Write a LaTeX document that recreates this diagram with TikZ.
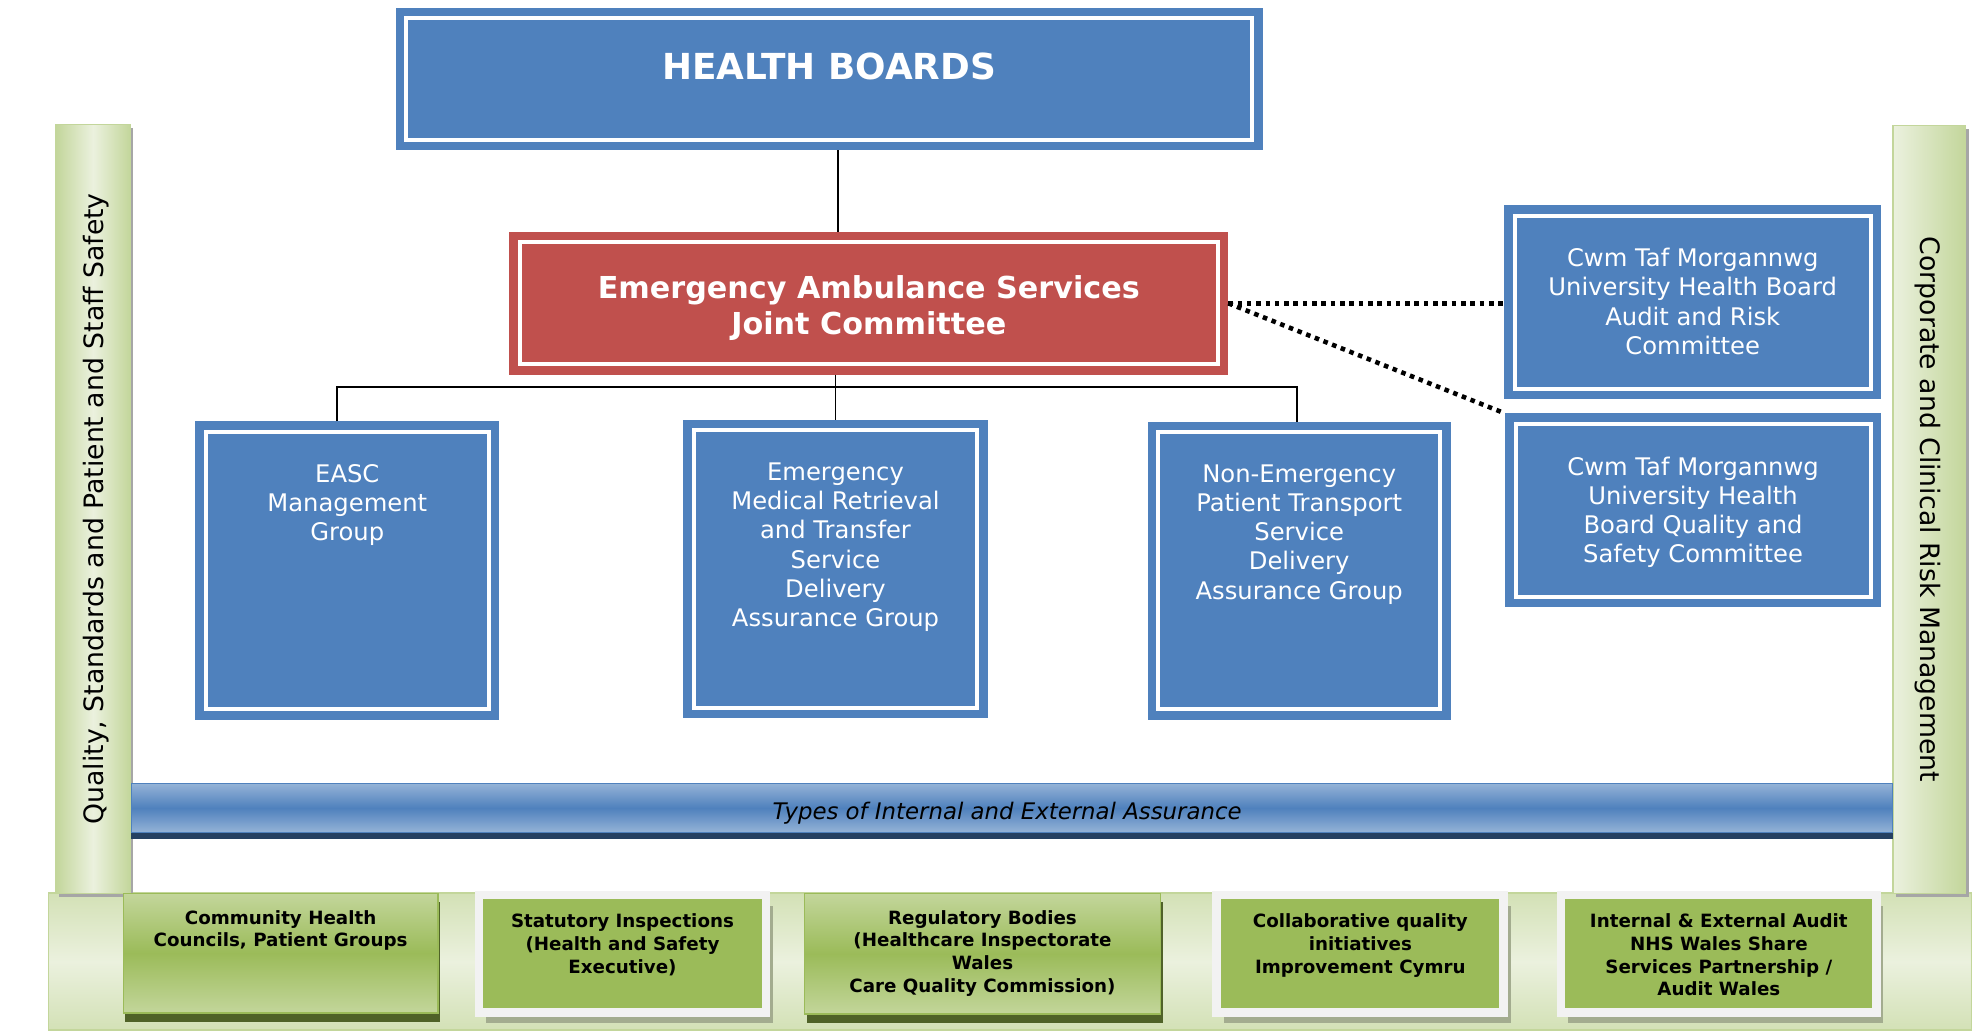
\documentclass[tikz,border=0pt]{standalone}
\usepackage{fontspec}
\setmainfont{DejaVu Sans}
\usetikzlibrary{positioning,shadows}

\definecolor{boardblue}{HTML}{4F81BD}
\definecolor{jcred}{HTML}{C0504D}
\definecolor{assgreen}{HTML}{9BBB59}
\definecolor{midgreen}{HTML}{C3D69B}
\definecolor{palegreen}{HTML}{EBF1DE}
\definecolor{barlight}{HTML}{95B3D7}
\definecolor{bardark}{HTML}{254061}
\definecolor{olivedark}{HTML}{4F6228}
\definecolor{framegrey}{HTML}{F2F2F2}
\definecolor{shadegrey}{HTML}{A3AC8F}

\newcommand{\dpx}{0.358pt}

\tikzset{
	boxsize/.style 2 args={minimum width=#1*\dpx, minimum height=#2*\dpx},
	framed/.style={draw=#1, fill=#1, line width=2.43pt, double=white,
			double distance=1.15pt, inner sep=0pt, outer sep=3pt},
	boxtext/.style={text=white, align=center, inner sep=0pt,
			font=\fontsize{6.9}{8.3}\selectfont},
	sidebar/.style={draw=midgreen, line width=0.4pt, inner sep=0pt,
			left color=midgreen, right color=midgreen, middle color=palegreen,
			drop shadow={shadow xshift=0.9pt, shadow yshift=-1pt, fill=black!35, opacity=1}},
	sidetext/.style={font=\fontsize{7.6}{9}\selectfont, inner sep=0pt},
	raisedbox/.style={draw=assgreen, line width=0.5pt, inner sep=0pt,
			top color=midgreen, bottom color=midgreen, middle color=assgreen,
			drop shadow={shadow xshift=0.6pt, shadow yshift=-2.5pt, fill=olivedark, opacity=1}},
	flatbox/.style={draw=framegrey, line width=2.5pt, fill=assgreen, inner sep=0pt,
			drop shadow={shadow xshift=1.9pt, shadow yshift=-3pt, fill=shadegrey, opacity=1}},
	assurtext/.style={font=\bfseries\fontsize{5.2}{6.45}\selectfont, align=center, inner sep=0pt},
	dotline/.style={line width=1.3pt, dash pattern=on 1.3pt off 1.35pt},
}

\begin{document}
\begin{tikzpicture}[x=0.012583cm, y=-0.012583cm]
	\useasboundingbox (0,0) rectangle (1568,820.2);
	
	\node[draw=midgreen, inner sep=0pt, top color=midgreen!60!palegreen, bottom color=midgreen!60!palegreen,
		middle color=palegreen, boxsize={1528.6}{108.8}] (strip) at (802.7,764.2) {};
	\node[sidebar, boxsize={59}{611}] (qbar) at (74,404.5) {};
	\node[sidetext, rotate=90] at ([xshift=1pt]qbar.center) {Quality, Standards and Patient and Staff Safety};
	\node[sidebar, left color=palegreen, right color=midgreen, boxsize={57.5}{610.3}] (riskbar) at (1533.25,404.85) {};
	\node[sidetext, rotate=-90] at ([xshift=-0.3pt]riskbar.center) {Corporate and Clinical Risk Management};
	
	\node[draw=boardblue, line width=0.4pt, top color=barlight, bottom color=barlight, middle color=boardblue,
		boxsize={1400.5}{39.2}, inner sep=0pt] (typesbar) at (804.25,642.1) {};
	\fill[bardark] (typesbar.south west) rectangle ++(1400.5,4.5);
	\node[font=\itshape\fontsize{6.5}{8}\selectfont, xshift=-1.4pt, yshift=-1.4pt] at (typesbar.center)
		{Types of Internal and External Assurance};
	
	\node[framed=boardblue, boxsize={672.7}{96.7}] (hb) at (659,62.75) {};
	\node[text=white, font=\bfseries\fontsize{10.2}{12}\selectfont, yshift=3.5pt] at (hb.center) {HEALTH BOARDS};
	
	\node[framed=jcred, boxsize={554.9}{97.1}] (jc) at (690.45,241.05) {};
	\node[text=white, align=center, font=\bfseries\fontsize{8.6}{10.4}\selectfont, yshift=-1.4pt] at (jc.center)
		{Emergency Ambulance Services\\Joint Committee};
	
	\node[framed=boardblue, boxsize={225.2}{220.6}] (mgmt) at (276,453.3) {};
	\node[boxtext, below=12.1pt] at (mgmt.north) {EASC\\Management\\Group};
	\node[framed=boardblue, boxsize={225.2}{220.7}] (emrts) at (664,452.25) {};
	\node[boxtext, below=12.1pt] at (emrts.north) {Emergency\\Medical Retrieval\\and Transfer\\Service\\Delivery\\Assurance Group};
	\node[framed=boardblue, boxsize={224.2}{220.2}] (nepts) at (1032.5,453.5) {};
	\node[boxtext, below=12.1pt] at (nepts.north) {Non-Emergency\\Patient Transport\\Service\\Delivery\\Assurance Group};
	
	\node[framed=boardblue, boxsize={282.7}{137.5}] (audit) at (1345.25,240.15) {};
	\node[boxtext, below=12.1pt] at (audit.north) {Cwm Taf Morgannwg\\University Health Board\\Audit and Risk\\Committee};
	\node[framed=boardblue, boxsize={282.2}{137.4}] (quality) at (1345.5,405.6) {};
	\node[boxtext, below=12.1pt] at (quality.north) {Cwm Taf Morgannwg\\University Health\\Board Quality and\\Safety Committee};
	
	\coordinate (spine) at (666,150);
	\draw[line width=0.5pt] (hb.south -| spine) -- (jc.north -| spine);
	\draw[line width=0.5pt] (jc.south -| emrts.north) -- (emrts.north);
	\coordinate (busL) at (267.6,307.3);
	\coordinate (busR) at (1031,307.3);
	\draw[line width=0.6pt] (mgmt.north -| busL) -- (busL) -- (busR) -- (nepts.north -| busR);
	\draw[dotline] (jc.east) -- (jc.east -| audit.west);
	\draw[dotline] (jc.east) -- (quality.north west);
	
	\node[raisedbox, boxsize={250}{95}] (chc) at (223,757.5) {};
	\node[assurtext, below=4.9pt] at (chc.north) {Community Health\\Councils, Patient Groups};
	\node[flatbox, boxsize={228.2}{93.4}] (statutory) at (494.7,758) {};
	\node[assurtext, below=6.4pt] at (statutory.north) {Statutory Inspections\\(Health and Safety\\Executive)};
	\node[raisedbox, boxsize={283}{96}] (regulatory) at (780.8,758) {};
	\node[assurtext, below=4.9pt] at (regulatory.north) {Regulatory Bodies\\(Healthcare Inspectorate\\Wales\\Care Quality Commission)};
	\node[flatbox, boxsize={228.2}{93.4}] (collab) at (1081.1,758) {};
	\node[assurtext, below=6.4pt] at (collab.north) {Collaborative quality\\initiatives\\Improvement Cymru};
	\node[flatbox, boxsize={251}{93.4}] (audits) at (1366,758) {};
	\node[assurtext, below=6.4pt] at (audits.north) {Internal \& External Audit\\NHS Wales Share\\Services Partnership /\\Audit Wales};
\end{tikzpicture}
\end{document}
